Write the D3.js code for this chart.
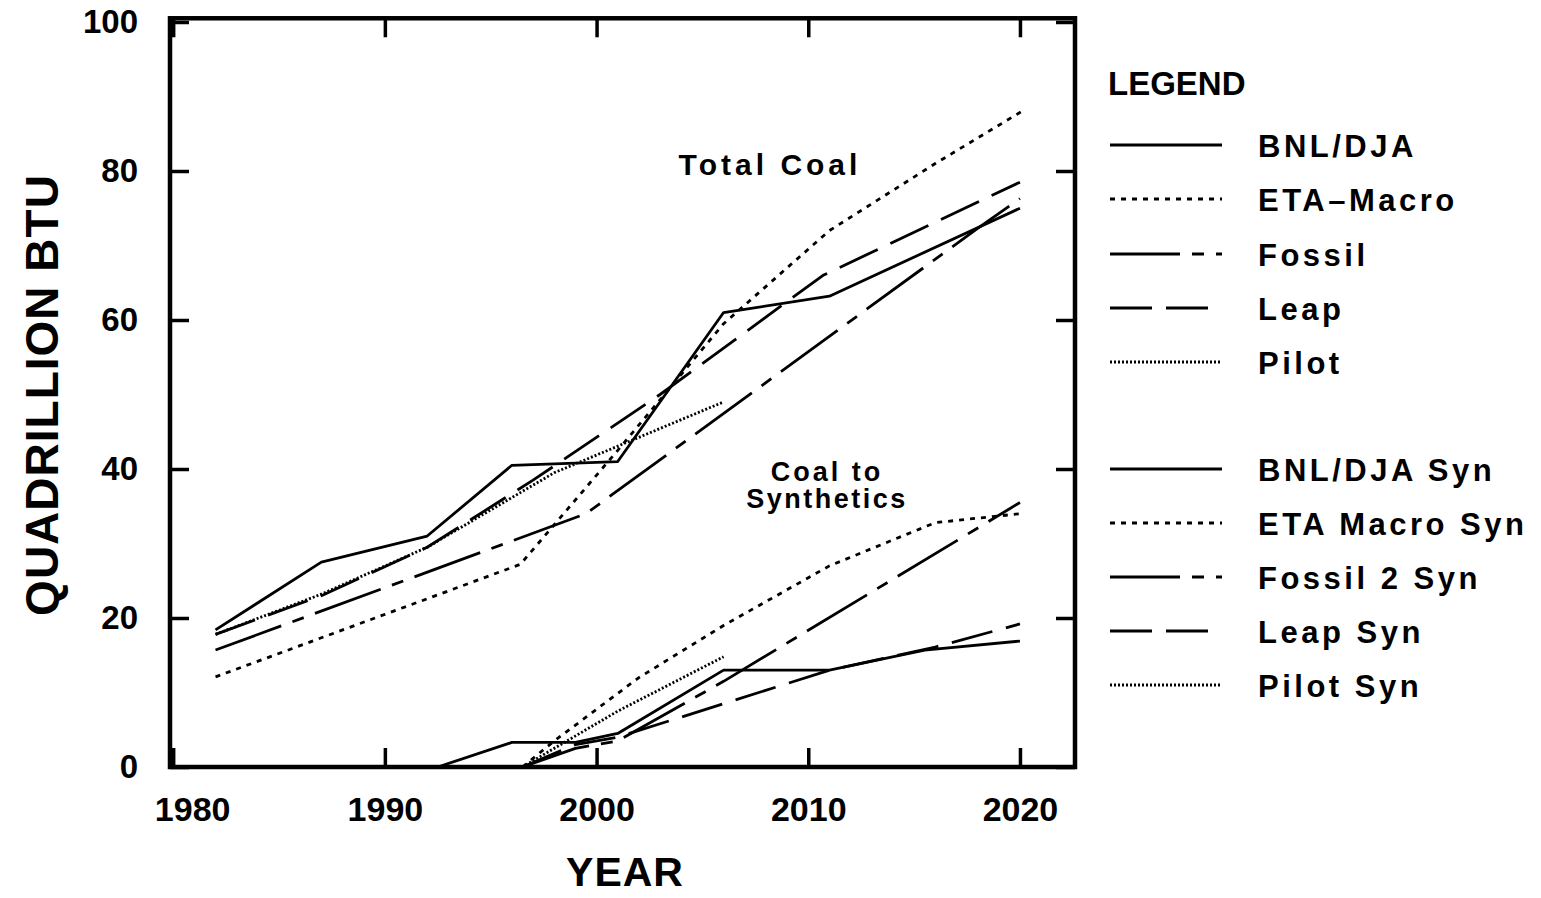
<!DOCTYPE html>
<html><head><meta charset="utf-8">
<script src="https://cdn.jsdelivr.net/npm/d3@7"></script>
<style>
html,body{margin:0;padding:0;background:#fff;}
svg{display:block;}
text{font-family:"Liberation Sans",Arial,sans-serif;fill:#000;}
</style></head>
<body>
<svg id="chart" width="1541" height="898"></svg>
<script>
// ---------------- data ----------------
const xTickValues = [1980, 1990, 2000, 2010, 2020];
const yTickValues = [0, 20, 40, 60, 80, 100];

// Total coal series: [year, quadrillion BTU]
const bnlTotal   = [[1982,18.4],[1987,27.5],[1992,31],[1996,40.5],[2001,41],[2006,61],[2011,63.2],[2020,75]];
const etaTotal   = [[1982,12.1],[1996.4,27.2],[2001,42.5],[2006,59.5],[2011,72],[2016,81],[2020.2,88.2]];
const fossilTotal= [[1982,15.7],[1999.5,34],[2018,72.3],[2020,76.3]];
const leapTotal  = [[1982,17.8],[1987,23],[1992,29.5],[1997,38.5],[2003,50],[2010.7,66],[2020,78.5]];
const pilotTotal = [[1982,17.8],[1987,23.2],[1992,29.5],[1998,39.5],[2006,49]];

// Coal to synthetics series
const bnlSyn    = [[1992.5,0],[1996,3.3],[1999,3.3],[2001,4.5],[2006,13],[2011,13],[2015.5,15.7],[2020,16.9]];
const etaSyn    = [[1996.5,0],[1998,3.5],[2002,12],[2006,19],[2011,27],[2016,32.8],[2020,34]];
const fossilSyn = [[1996.5,0],[1999,2.5],[2001,3.5],[2006,11.5],[2020,35.5]];
const leapSyn   = [[1996.5,0],[1999,3],[2001,4],[2006,8.5],[2011,13],[2016,16.1],[2020,19.2]];
const pilotSyn  = [[1996.5,0],[2001,7.5],[2006,14.8]];

const legendLabels = ["BNL/DJA","ETA\u2013Macro","Fossil","Leap","Pilot",
                      "BNL/DJA Syn","ETA Macro Syn","Fossil 2 Syn","Leap Syn","Pilot Syn"];

// ---------------- styles ----------------
const dashStyles = {
  solid: null,
  eta: "5,6",
  fossil: "70,12,12,12",
  leap: "42,14",
  pilot: "2,2"
};
const series = [
  {data: bnlTotal, style: "solid"},
  {data: etaTotal, style: "eta"},
  {data: fossilTotal, style: "fossil"},
  {data: leapTotal, style: "leap"},
  {data: pilotTotal, style: "pilot"},
  {data: bnlSyn, style: "solid"},
  {data: etaSyn, style: "eta"},
  {data: fossilSyn, style: "fossil"},
  {data: leapSyn, style: "leap"},
  {data: pilotSyn, style: "pilot"}
];

const svg = d3.select("#chart");
const x = d3.scaleLinear().domain([1979.85, 2022.6]).range([170, 1075]);
const y = d3.scaleLinear().domain([0, 100]).range([767, 22]);

// series lines
const line = d3.line().x(d => x(d[0])).y(d => y(d[1]));
const g = svg.append("g");
series.forEach(s => {
  g.append("path")
    .attr("d", line(s.data))
    .attr("fill", "none")
    .attr("stroke", "#000")
    .attr("stroke-width", 2.8)
    .attr("stroke-linejoin", "round")
    .attr("stroke-dasharray", dashStyles[s.style]);
});

// frame
const frameTop = y(100.5);
svg.append("rect")
  .attr("x", x.range()[0]).attr("y", frameTop)
  .attr("width", x.range()[1] - x.range()[0])
  .attr("height", y(0) - frameTop)
  .attr("fill", "none").attr("stroke", "#000").attr("stroke-width", 4.5);

// axes
const tickLen = 19;
const axB = svg.append("g").attr("transform", `translate(0,${y(0)})`)
  .call(d3.axisBottom(x).tickValues(xTickValues).tickSize(-tickLen).tickPadding(30).tickFormat(d3.format("d")));
const axT = svg.append("g").attr("transform", `translate(0,${frameTop})`)
  .call(d3.axisTop(x).tickValues(xTickValues).tickSize(-tickLen).tickFormat(""));
const axL = svg.append("g").attr("transform", `translate(${x.range()[0]},0)`)
  .call(d3.axisLeft(y).tickValues(yTickValues).tickSize(-tickLen).tickPadding(32));
const axR = svg.append("g").attr("transform", `translate(${x.range()[1]},0)`)
  .call(d3.axisRight(y).tickValues(yTickValues).tickSize(-tickLen).tickFormat(""));
[axB, axT, axL, axR].forEach(a => {
  a.select(".domain").remove();
  a.selectAll(".tick line").attr("stroke", "#000").attr("stroke-width", 3.5);
});
axB.selectAll(".tick text")
  .style("font-size", "34px").style("font-weight", "bold")
  .attr("dx", d => d === 1980 ? 19 : 0);
axL.selectAll(".tick text")
  .style("font-size", "33px").style("font-weight", "bold");

// axis titles
svg.append("text")
  .attr("x", 625).attr("y", 886)
  .attr("text-anchor", "middle")
  .style("font-size", "41px").style("font-weight", "bold").style("letter-spacing", "1px")
  .text("YEAR");
svg.append("text")
  .attr("transform", "translate(58,395) rotate(-90)")
  .attr("text-anchor", "middle")
  .style("font-size", "46px").style("font-weight", "bold").style("letter-spacing", "1px")
  .text("QUADRILLION BTU");

// annotations
svg.append("text").attr("x", 770).attr("y", 175).attr("text-anchor", "middle")
  .style("font-size", "30px").style("font-weight", "bold").style("letter-spacing", "4px")
  .text("Total Coal");
svg.append("text").attr("x", 827).attr("y", 481).attr("text-anchor", "middle")
  .style("font-size", "27px").style("font-weight", "bold").style("letter-spacing", "3px")
  .text("Coal to");
svg.append("text").attr("x", 827).attr("y", 508).attr("text-anchor", "middle")
  .style("font-size", "27px").style("font-weight", "bold").style("letter-spacing", "2.5px")
  .text("Synthetics");

// legend
svg.append("text").attr("x", 1108).attr("y", 95)
  .style("font-size", "33px").style("font-weight", "bold")
  .text("LEGEND");
const legendRowY = [145, 199, 254, 308, 362, 469, 523, 577, 631, 685];
series.forEach((s, i) => {
  const ly = legendRowY[i];
  svg.append("line")
    .attr("x1", 1110).attr("x2", 1222).attr("y1", ly).attr("y2", ly)
    .attr("stroke", "#000")
    .attr("stroke-width", 2.8)
    .attr("stroke-dasharray", dashStyles[s.style]);
  svg.append("text").attr("x", 1258).attr("y", ly + 12)
    .style("font-size", "31px").style("font-weight", "bold").style("letter-spacing", "3.5px")
    .text(legendLabels[i]);
});
</script>
</body></html>
